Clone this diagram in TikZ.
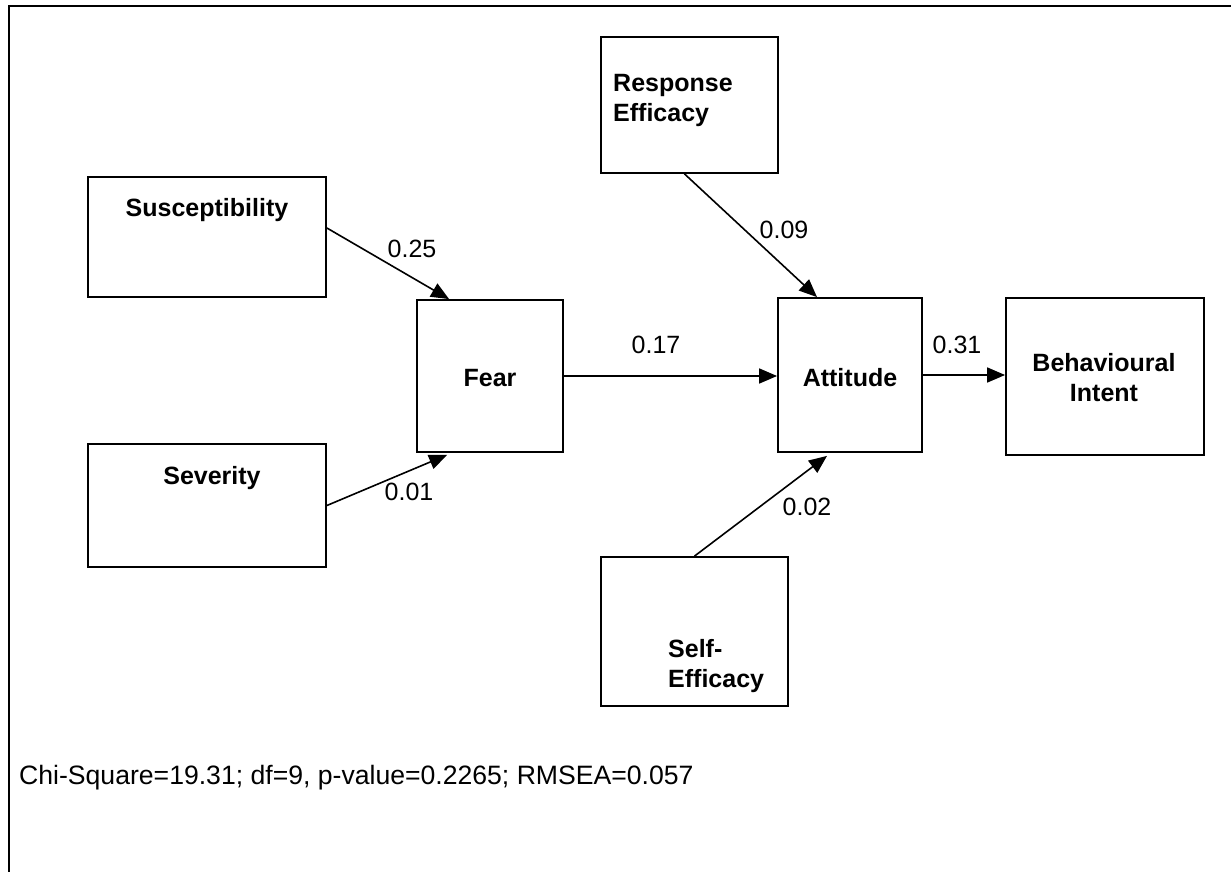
\documentclass[tikz,border=0pt]{standalone}
\usepackage{fontspec}
\setmainfont{Liberation Sans}
\usetikzlibrary{arrows.meta}

\begin{document}
\begin{tikzpicture}[x=1pt,y=-1pt,
  box/.style={draw, line width=1.8pt, inner sep=0pt},
  lbl/.style={font=\fontsize{25pt}{30pt}\selectfont\bfseries, inner sep=0pt},
  coef/.style={font=\fontsize{25pt}{30pt}\selectfont, inner sep=0pt},
  path/.style={draw, line width=1.6pt, -{Triangle[length=18pt,width=15pt]}},
]
\useasboundingbox (0,0) rectangle (1231,872);

% frame
\draw[line width=2.2pt] (9,872) -- (9,6) -- (1231,6);

% variables
\node[box, minimum width=238pt, minimum height=120pt] (sus)  at (207,237) {};
\node[box, minimum width=238pt, minimum height=123pt] (sev)  at (207,505.5) {};
\node[box, minimum width=146pt, minimum height=152pt] (fear) at (490,376) {};
\node[box, minimum width=144pt, minimum height=154pt] (att)  at (850,375) {};
\node[box, minimum width=198pt, minimum height=157pt] (beh)  at (1105,376.5) {};
\node[box, minimum width=177pt, minimum height=136pt] (resp) at (689.5,105) {};
\node[box, minimum width=187pt, minimum height=149pt] (self) at (694.5,631.5) {};

\node[lbl] (tsus)  at (207,210) {Susceptibility};
\node[lbl] (tsev)  at (212,478) {Severity};
\node[lbl] (tfear) at (490,378) {Fear};
\node[lbl] (tatt)  at (850,378) {Attitude};
\node[lbl, align=center] (tbeh) at (1104,378) {Behavioural\\Intent};
\node[lbl, align=left, anchor=west] (tresp) at (613,100) {Response\\Efficacy};
\node[lbl, align=left, anchor=west] (tself) at (668,666) {Self-\\Efficacy};

% paths
\draw[path] ([yshift=9pt]sus.east) -- ([xshift=33pt]fear.north west);
\draw[path] (sev.east) -- ([xshift=31pt,yshift=-2pt]fear.south west);
\draw[path] (fear.east) -- (fear.east -| att.west);
\draw[path] ([xshift=-5pt]resp.south) -- ([xshift=-33pt]att.north);
\draw[path] (self.north) -- ([xshift=-23pt,yshift=-3pt]att.south);
\draw[path] (att.east) -- (att.east -| beh.west);

% coefficients
\node[coef] (c1) at (412,249) {0.25};
\node[coef] (c2) at (409,492) {0.01};
\node[coef] (c3) at (656,345) {0.17};
\node[coef] (c4) at (784,230) {0.09};
\node[coef] (c5) at (807,507) {0.02};
\node[coef] (c6) at (957,345) {0.31};

% fit statistics
\node[coef, font=\fontsize{26.6pt}{30pt}\selectfont, anchor=base west] (fit) at (19,784) {Chi-Square=19.31; df=9, p-value=0.2265; RMSEA=0.057};
\end{tikzpicture}
\end{document}
